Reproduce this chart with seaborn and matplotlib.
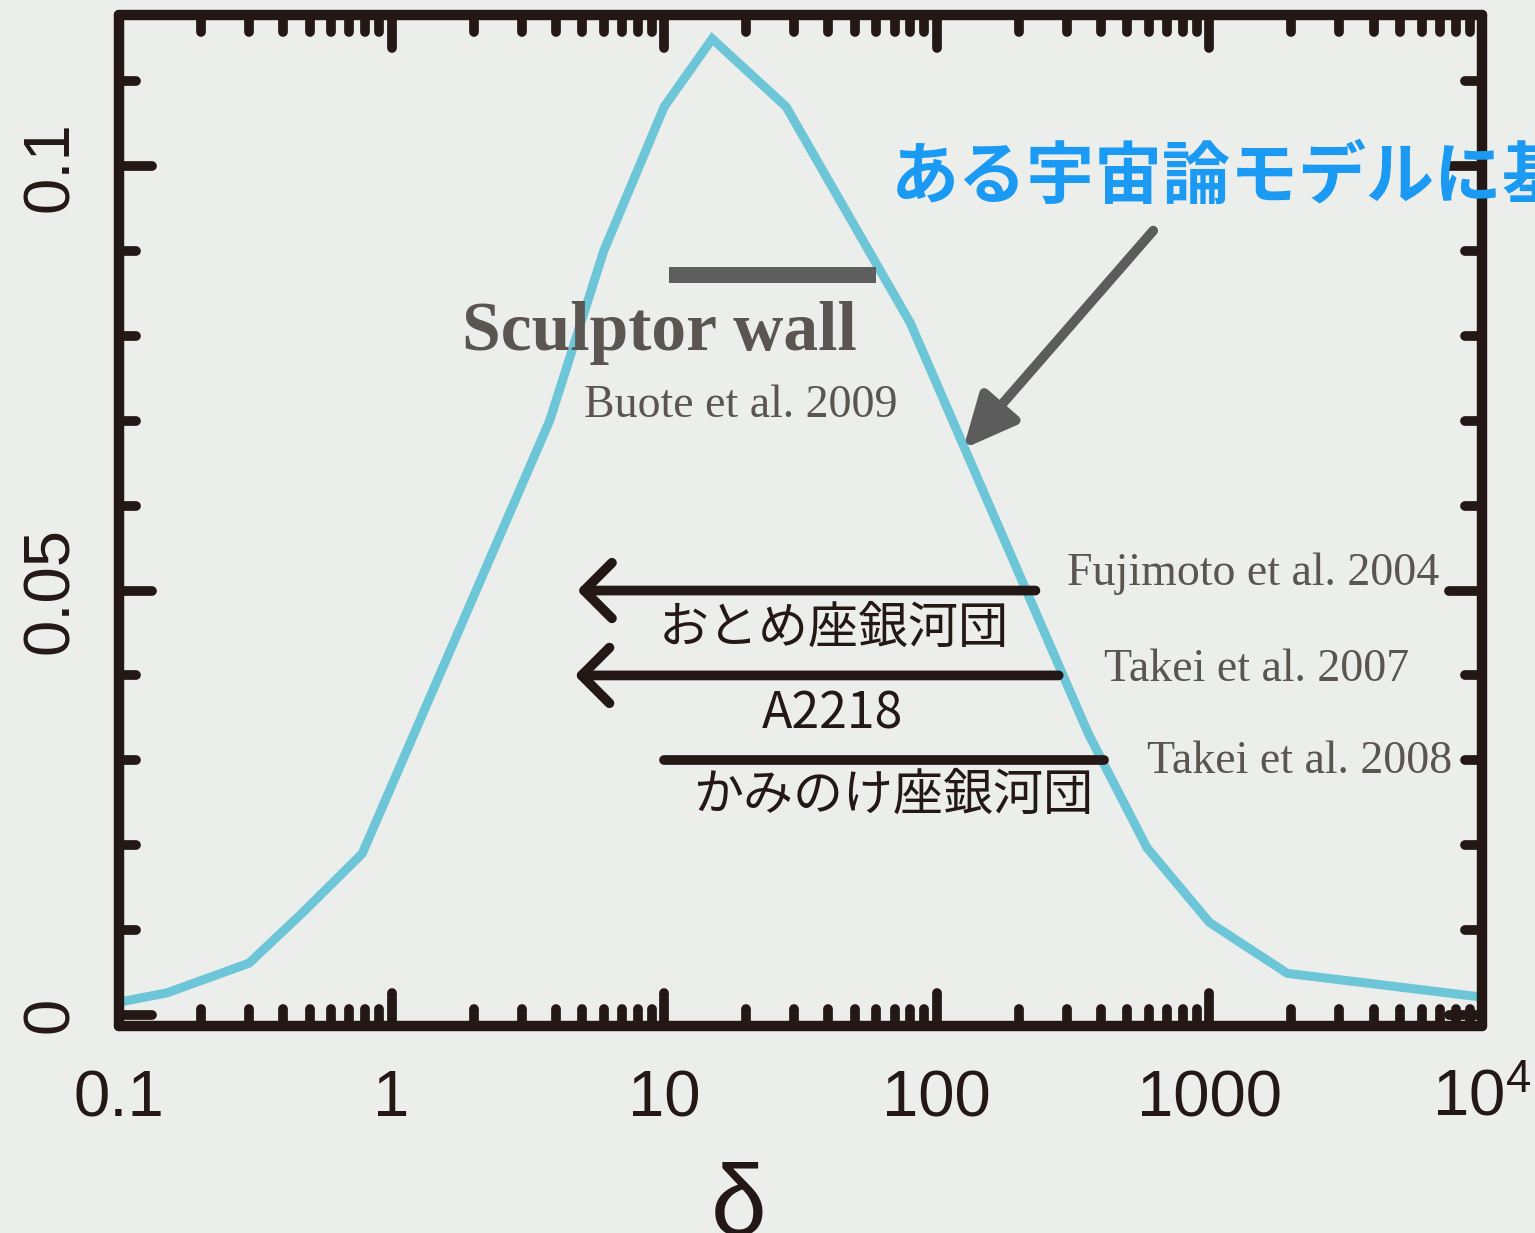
import numpy as np
import pandas as pd
import matplotlib
matplotlib.use("Agg")
import matplotlib.pyplot as plt
from matplotlib.markers import MarkerStyle
from matplotlib.ticker import LogLocator, NullFormatter, MultipleLocator
import seaborn as sns

# Distribution of the overdensity delta predicted by the model
delta = [0.1, 0.15, 0.3, 0.47, 0.78, 3.8, 6.0, 10, 15, 28, 80, 360, 590, 1000, 1930, 10000]
fraction = [0.0015, 0.0026, 0.0061, 0.012, 0.019, 0.070, 0.090, 0.107, 0.115, 0.107,
            0.0815, 0.0331, 0.0197, 0.0109, 0.0049, 0.0021]

# Observed systems: delta range and the level at which each bar is drawn
object_names = ["おとめ座銀河団", "A2218", "かみのけ座銀河団"]
object_refs = ["Fujimoto et al. 2004", "Takei et al. 2007", "Takei et al. 2008"]
object_level = [0.05, 0.04, 0.03]
object_lo = [4.8, 4.7, 10]
object_hi = [230, 280, 410]
object_upper_limit = [True, True, False]

sculptor_name = "Sculptor wall"
sculptor_ref = "Buote et al. 2009"
sculptor_lo = 10.4
sculptor_hi = 60
sculptor_level = 0.0872

x_ticks = [0.1, 1, 10, 100, 1000, 10000]
x_tick_labels = ["0.1", "1", "10", "100", "1000", r"$\mathrm{10^4}$"]
y_ticks = [0, 0.05, 0.1]
y_tick_labels = ["0", "0.05", "0.1"]

INK = "#231815"
BG = "#eceeeb"
CURVE = "#6cc6d7"
REF = "#5a5550"

sns.set_style("ticks")
plt.rcParams["font.family"] = ["Liberation Sans", "DejaVu Sans"]
plt.rcParams["mathtext.fontset"] = "custom"
plt.rcParams["mathtext.rm"] = "Liberation Sans"

fig = plt.figure(figsize=(15.35, 12.33), dpi=100, facecolor=BG)
ax = fig.add_axes([0.0775, 0.1679, 0.888, 0.8199])
ax.set_facecolor(BG)

df = pd.DataFrame({"delta": delta, "fraction": fraction})
sns.lineplot(data=df, x="delta", y="fraction", ax=ax, color=CURVE, lw=6.5,
             solid_capstyle="round", solid_joinstyle="miter")

ax.set_xscale("log")
ax.set_xlim(0.1, 10000)
ax.set_ylim(-0.0013, 0.1178)

ax.set_xticks(x_ticks, x_tick_labels)
ax.xaxis.set_minor_locator(LogLocator(base=10, subs=np.arange(2, 10)))
ax.xaxis.set_minor_formatter(NullFormatter())
ax.set_yticks(y_ticks, y_tick_labels)
ax.yaxis.set_minor_locator(MultipleLocator(0.01))

for side in ["left", "right", "top", "bottom"]:
    ax.spines[side].set_visible(True)
    ax.spines[side].set_color(INK)
    ax.spines[side].set_linewidth(7.5)
    ax.spines[side].set_capstyle("round")

ax.tick_params(which="both", direction="in", top=True, right=True, color=INK,
               width=7, labelcolor=INK, labelsize=47)
ax.tick_params(which="major", length=24)
ax.tick_params(which="minor", length=12)
ax.tick_params(axis="x", pad=31)
ax.tick_params(axis="y", pad=27, labelrotation=90)
for lab in ax.get_yticklabels():
    lab.set_verticalalignment("center")

ax.set_xlabel("δ", fontsize=72, color=INK)
ax.xaxis.label.set_verticalalignment("baseline")
ax.xaxis.set_label_coords(0.4545, -0.207)
ax.set_ylabel("")

# Sculptor wall range
ax.hlines(sculptor_level, sculptor_lo, sculptor_hi, color="#5e5e5e", lw=11.5,
          capstyle="butt")
ax.text(1.82, 0.0783, sculptor_name, family=["Liberation Serif"], weight="bold",
        fontsize=50, color=REF, ha="left", va="baseline")
ax.text(5.1, 0.0704, sculptor_ref, family=["Liberation Serif"], fontsize=33,
        color=REF, ha="left", va="baseline")

# Galaxy cluster ranges
ref_x = [300, 410, 590]
ref_y = [0.0506, 0.0394, 0.0285]
name_x = [42, 41.5, 69]
name_y = [0.0455, 0.0354, 0.0258]
for i in range(len(object_names)):
    lvl = object_level[i]
    if object_upper_limit[i]:
        ax.annotate("", xy=(object_lo[i], lvl), xytext=(object_hi[i], lvl),
                    arrowprops=dict(arrowstyle="->,head_length=1.0,head_width=1.0",
                                    lw=7, color=INK, capstyle="round",
                                    joinstyle="round", shrinkA=0, shrinkB=0,
                                    mutation_scale=20))
    else:
        ax.plot([object_lo[i], object_hi[i]], [lvl, lvl], color=INK, lw=7,
                solid_capstyle="round")
    ax.text(name_x[i], name_y[i], object_names[i],
            family=["Noto Sans CJK JP", "DejaVu Sans"], fontsize=36, color=INK,
            ha="center", va="center")
    ax.text(ref_x[i], ref_y[i], object_refs[i], family=["Liberation Serif"],
            fontsize=33, color=REF, ha="left", va="baseline")

# Pointer to the model curve
ax.annotate("", xy=(125, 0.0667), xytext=(622, 0.0924),
            arrowprops=dict(arrowstyle="-|>,head_length=1.6,head_width=0.75",
                            lw=7, color="#5c5c5c", shrinkA=0, shrinkB=0,
                            mutation_scale=20))
fig.text(0.58, 0.855, "ある宇宙論モデルに基", family=["Noto Sans CJK JP", "DejaVu Sans"],
         weight="bold", fontsize=49, color="#1a9af2", ha="left", va="center")

# Rounded tick ends
fig.canvas.draw()
for axis in (ax.xaxis, ax.yaxis):
    for tick in axis.get_major_ticks() + axis.get_minor_ticks():
        for line in (tick.tick1line, tick.tick2line):
            line.set_marker(MarkerStyle(line.get_marker(), capstyle="round"))

fig.savefig("out.png", dpi=100, facecolor=BG)
